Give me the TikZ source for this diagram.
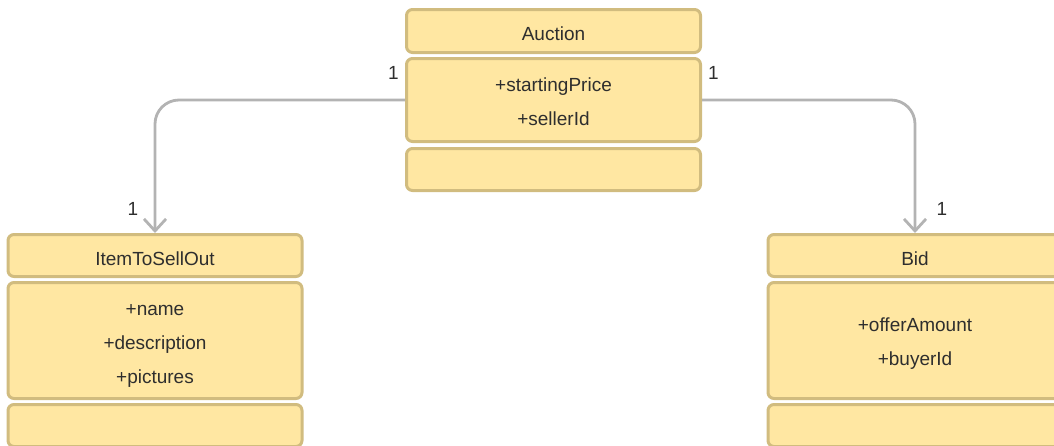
\documentclass[tikz,border=0pt]{standalone}
\usepackage{fontspec}
\setmainfont{Liberation Sans}
\usetikzlibrary{arrows.meta}

\definecolor{ClassFill}{HTML}{FFE7A2}
\definecolor{ClassEdge}{HTML}{D1BC7F}
\definecolor{LinkGray}{HTML}{B3B3B3}
\definecolor{TextDark}{HTML}{2E2E2E}

\begin{document}
\begin{tikzpicture}[x=0.5pt, y=-0.5pt, text=TextDark,
      every node/.append style={font=\fontsize{9.5}{17}\selectfont},
      part/.style={draw=ClassEdge, fill=ClassFill, line width=1.5pt, rounded corners=3pt,
        minimum width=147pt, inner sep=0pt, align=center},
      head/.style={part, minimum height=21pt, text height=10pt},
      attrs/.style={part, text depth=0pt},
      assoc/.style={-{Straight Barb[length=6pt,width=11pt]}, draw=LinkGray, line width=1.4pt,
        rounded corners=12pt},
      mult/.style={inner sep=0pt}]
    \useasboundingbox (0,0) rectangle (1054,445);
    \clip (0,0) rectangle (1054,445);
    % Auction
    \node (auction) [head, minimum height=21.5pt] at (553.5,31) {Auction};
    \node (auctionattr) [attrs, minimum height=41.5pt, text height=25.5pt] at (553.5,100) {+startingPrice\\+sellerId};
    \node (auctionops) [part, minimum height=21pt] at (553.5,169.5) {};
    % ItemToSellOut
    \node (item) [head] at (155,255.5) {ItemToSellOut};
    \node (itemattr) [attrs, minimum height=58pt, text height=43pt] at (155,340.5) {+name\\+description\\+pictures};
    \node (itemops) [part, minimum height=21pt] at (155,425.5) {};
    % Bid
    \node (bid) [head] at (915,255.5) {Bid};
    \node (bidattr) [attrs, minimum height=58pt, text height=25pt] at (915,340.5) {+offerAmount\\+buyerId};
    \node (bidops) [part, minimum height=21pt] at (915,425.5) {};
    % links
    \draw [assoc] (auctionattr.west) -| (item.north)
      node [mult, at start, xshift=-5.75pt, yshift=13.5pt] {1}
      node [mult, at end, xshift=-11pt, yshift=12pt] {1};
    \draw [assoc] (auctionattr.east) -| (bid.north)
      node [mult, at start, xshift=5.75pt, yshift=13.5pt] {1}
      node [mult, at end, xshift=13.5pt, yshift=12pt] {1};
\end{tikzpicture}
\end{document}
